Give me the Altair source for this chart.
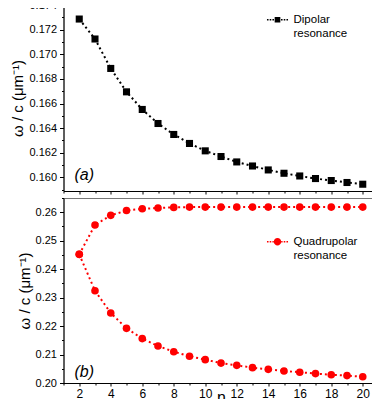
import altair as alt
import pandas as pd

n_dip = list(range(2, 21))
dipolar = [0.17286, 0.17124, 0.16885, 0.16695, 0.16552, 0.16438, 0.16349, 0.16276,
           0.16216, 0.16170, 0.16126, 0.16093, 0.16061, 0.16034, 0.16012, 0.15991,
           0.15975, 0.15959, 0.15945]

n_quad = list(range(2, 21))
quad_upper = [0.2452, 0.2555, 0.2589, 0.2606, 0.2612, 0.2615, 0.2617, 0.2618, 0.2618,
              0.2618, 0.2618, 0.2618, 0.2618, 0.2618, 0.2618, 0.2618, 0.2618, 0.2618, 0.2618]
quad_lower = [0.2452, 0.2324, 0.2246, 0.2192, 0.2156, 0.2130, 0.2110, 0.2094, 0.2082,
              0.2070, 0.2062, 0.2054, 0.2048, 0.2042, 0.2038, 0.2033, 0.2029, 0.2026, 0.2022]

x_ticks = list(range(1, 22))
y_top_ticks = [round(0.159 + 0.001 * i, 3) for i in range(16)]
y_bot_ticks = [round(0.200 + 0.005 * i, 3) for i in range(14)]

FONT = "Liberation Sans"
W, H1, H2 = 315, 186, 185

df_d = pd.DataFrame({"n": n_dip, "w": dipolar, "series": "Dipolar resonance", "branch": "a"})
df_q = pd.concat([
    pd.DataFrame({"n": n_quad, "w": quad_upper, "series": "Quadrupolar resonance", "branch": "up"}),
    pd.DataFrame({"n": n_quad, "w": quad_lower, "series": "Quadrupolar resonance", "branch": "lo"}),
])

x_dom = [1, 21]


def x_axis(show_labels):
    return alt.Axis(
        values=x_ticks, labels=show_labels, title="n" if show_labels else None,
        labelExpr="datum.value % 2 == 0 ? datum.value : ''",
        tickSize={"condition": {"test": "datum.value % 2 == 0", "value": 3}, "value": 2},
        grid=False, domainColor="#000", tickColor="#000", labelFont=FONT, labelFontSize=12,
        labelColor="#000", titleFont=FONT, titleFontSize=16, titleFontWeight="normal",
        titleColor="#000", titlePadding=-10, labelPadding=2, labelFlush=False,
    )


def y_axis(vals, major_test, fmt):
    return alt.Axis(
        values=vals, title="ω / c (μm⁻¹)",
        labelExpr=f"({major_test}) ? format(datum.value, '{fmt}') : ''",
        tickSize={"condition": {"test": major_test, "value": 4}, "value": 2},
        grid=False, domainColor="#000", tickColor="#000", labelFont=FONT, labelFontSize=11,
        labelColor="#000", titleFont=FONT, titleFontSize=15, titleFontWeight="normal",
        titleColor="#000", titlePadding=3, labelPadding=3, labelFlush=False,
    )


def dots_path(marker):
    parts = []
    d = 0.08
    for cx in [-1.0, -0.72, -0.44, 0.44, 0.72, 1.0]:
        parts.append(f"M{cx - d:.2f},{-0.33 - d:.2f}h{2 * d:.2f}v{2 * d:.2f}h{-2 * d:.2f}Z")
    if marker == "square":
        parts.append("M-0.29,-0.62H0.29V-0.04H-0.29Z")
    else:
        parts.append("M-0.38,-0.33A0.38,0.38 0 1 0 0.38,-0.33A0.38,0.38 0 1 0 -0.38,-0.33Z")
    return "".join(parts)


def panel(df, color, shape, size, ydom, yvals, major_test, fmt, show_x, label_lines,
          legend_y, tag, h, tag_y):
    x = alt.X("n:Q", scale=alt.Scale(domain=x_dom, nice=False, zero=False), axis=x_axis(show_x))
    y = alt.Y("w:Q", scale=alt.Scale(domain=ydom, nice=False, zero=False),
              axis=y_axis(yvals, major_test, fmt))
    col = alt.Color("series:N", scale=alt.Scale(range=[color]),
                    legend=alt.Legend(orient="none", legendX=204, legendY=legend_y, title=None,
                                      symbolType=dots_path(shape), symbolSize=380,
                                      symbolStrokeWidth=0, symbolFillColor=color,
                                      symbolStrokeColor=color,
                                      labelExpr=label_lines, labelBaseline="alphabetic",
                                      labelFont=FONT, labelFontSize=11.5, labelColor="#000",
                                      labelLimit=200, labelOffset=6))
    base = alt.Chart(df)
    line = base.mark_line(strokeDash=[2, 3], strokeWidth=2).encode(
        x=x, y=y, color=col, detail="branch:N", order="n:Q")
    pts = base.mark_point(shape=shape, filled=True, size=size, opacity=1).encode(
        x=x, y=y, color=alt.Color("series:N", scale=alt.Scale(range=[color]), legend=None),
        detail="branch:N")
    label = alt.Chart(pd.DataFrame({"t": [tag]})).mark_text(
        font=FONT, fontSize=16, fontStyle="italic", align="left", baseline="alphabetic",
        color="#000").encode(text="t:N", x=alt.value(11), y=alt.value(tag_y))
    return alt.layer(line, pts, label).properties(width=W, height=h)


top = panel(df_d, "#000000", "square", 50, [0.1589, 0.174], y_top_ticks,
            "round(datum.value*1000) % 2 == 0", ".3f", False,
            "['Dipolar', 'resonance']", 8, "(a)", H1, H1 - 11)
bot = panel(df_q, "#ff0000", "circle", 58, [0.20, 0.265], y_bot_ticks,
            "round(datum.value*1000) % 10 == 0", ".2f", True,
            "['Quadrupolar', 'resonance']", 37, "(b)", H2, H2 - 6)

chart = alt.vconcat(top, bot, spacing=2).resolve_scale(color="independent").resolve_legend(
    color="independent").configure_view(stroke="#777", strokeWidth=1).properties(
    padding={"top": -10, "left": 1.5, "right": -8, "bottom": -7})

chart.save("out.html", embed_options={"renderer": "svg", "actions": False})
